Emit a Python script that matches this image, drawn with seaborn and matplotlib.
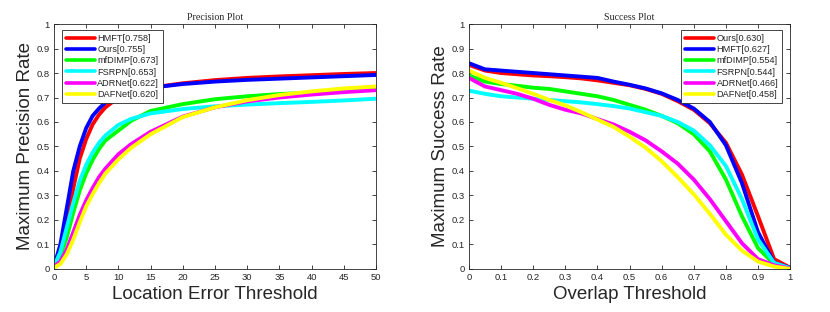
import numpy as np
import pandas as pd
import matplotlib
matplotlib.use("Agg")
import matplotlib.pyplot as plt
import seaborn as sns

sns.set_theme(style="white")
plt.rcParams["font.family"] = ["Liberation Sans", "DejaVu Sans"]

# ---- precision plot data ----
PREC_X = [0, 1, 2, 3, 4, 5, 6, 7, 8, 10, 12, 15, 20, 25, 30, 35, 40, 45, 50]
PREC_NAMES = ["HMFT[0.758]", "Ours[0.755]", "mfDIMP[0.673]",
              "FSRPN[0.653]", "ADRNet[0.622]", "DAFNet[0.620]"]
PREC_HMFT = [0.01, 0.06, 0.18, 0.33, 0.45, 0.53, 0.59, 0.63, 0.66, 0.70, 0.72, 0.74, 0.758, 0.771, 0.780, 0.786, 0.791, 0.796, 0.800]
PREC_OURS = [0.01, 0.10, 0.25, 0.40, 0.50, 0.575, 0.625, 0.655, 0.68, 0.71, 0.725, 0.74, 0.755, 0.765, 0.772, 0.777, 0.782, 0.787, 0.792]
PREC_MFDIMP = [0.01, 0.05, 0.13, 0.23, 0.32, 0.39, 0.445, 0.49, 0.525, 0.565, 0.605, 0.645, 0.673, 0.693, 0.705, 0.714, 0.72, 0.726, 0.732]
PREC_FSRPN = [0.01, 0.07, 0.17, 0.27, 0.36, 0.425, 0.475, 0.515, 0.545, 0.588, 0.613, 0.635, 0.653, 0.664, 0.671, 0.677, 0.682, 0.688, 0.695]
PREC_ADRNET = [0.01, 0.03, 0.08, 0.15, 0.22, 0.28, 0.33, 0.375, 0.41, 0.468, 0.51, 0.56, 0.622, 0.66, 0.684, 0.700, 0.712, 0.722, 0.730]
PREC_DAFNET = [0.005, 0.02, 0.06, 0.12, 0.19, 0.255, 0.305, 0.35, 0.39, 0.447, 0.495, 0.55, 0.620, 0.66, 0.689, 0.710, 0.725, 0.737, 0.745]

# ---- success plot data ----
SUCC_X = [0, 0.05, 0.1, 0.15, 0.2, 0.25, 0.3, 0.35, 0.4, 0.45, 0.5,
          0.55, 0.6, 0.65, 0.7, 0.75, 0.8, 0.85, 0.9, 0.95, 1.0]
SUCC_NAMES = ["Ours[0.630]", "HMFT[0.627]", "mfDIMP[0.554]",
              "FSRPN[0.544]", "ADRNet[0.466]", "DAFNet[0.458]"]
SUCC_OURS = [0.833, 0.81, 0.80, 0.795, 0.79, 0.787, 0.783, 0.778, 0.77, 0.76, 0.75, 0.735, 0.715, 0.685, 0.65, 0.595, 0.515, 0.385, 0.215, 0.04, 0.005]
SUCC_HMFT = [0.84, 0.815, 0.81, 0.805, 0.80, 0.795, 0.79, 0.785, 0.78, 0.765, 0.752, 0.737, 0.717, 0.69, 0.655, 0.60, 0.505, 0.35, 0.15, 0.025, 0.005]
SUCC_MFDIMP = [0.79, 0.765, 0.755, 0.748, 0.74, 0.735, 0.725, 0.715, 0.705, 0.69, 0.67, 0.65, 0.625, 0.595, 0.55, 0.48, 0.365, 0.215, 0.085, 0.02, 0.003]
SUCC_FSRPN = [0.728, 0.715, 0.705, 0.70, 0.695, 0.69, 0.685, 0.68, 0.673, 0.665, 0.655, 0.64, 0.625, 0.60, 0.565, 0.505, 0.42, 0.285, 0.12, 0.025, 0.003]
SUCC_ADRNET = [0.78, 0.745, 0.73, 0.715, 0.695, 0.67, 0.65, 0.635, 0.612, 0.59, 0.56, 0.525, 0.48, 0.43, 0.365, 0.285, 0.195, 0.105, 0.04, 0.015, 0.002]
SUCC_DAFNET = [0.81, 0.78, 0.76, 0.738, 0.715, 0.69, 0.668, 0.64, 0.61, 0.58, 0.54, 0.495, 0.44, 0.375, 0.305, 0.225, 0.14, 0.075, 0.03, 0.01, 0.0]

COLORS = ["#ff0000", "#0000ff", "#00ff00", "#00ffff", "#ff00ff", "#ffff00"]


def long_frame(xs, names, series):
    rows = []
    for name, ys in zip(names, series):
        for x, y in zip(xs, ys):
            rows.append({"x": x, "y": y, "tracker": name})
    return pd.DataFrame(rows)


prec_df = long_frame(PREC_X, PREC_NAMES,
                     [PREC_HMFT, PREC_OURS, PREC_MFDIMP, PREC_FSRPN, PREC_ADRNET, PREC_DAFNET])
succ_df = long_frame(SUCC_X, SUCC_NAMES,
                     [SUCC_OURS, SUCC_HMFT, SUCC_MFDIMP, SUCC_FSRPN, SUCC_ADRNET, SUCC_DAFNET])

fig = plt.figure(figsize=(8.3, 3.12), dpi=100)
ax1 = fig.add_axes([0.065, 0.138, 0.388, 0.785])
ax2 = fig.add_axes([0.565, 0.138, 0.387, 0.785])


def style_axes(ax, title, xlabel, ylabel, xticks, xticklabels, legend_loc, legend_anchor):
    ax.set_ylim(0, 1)
    ax.set_yticks(np.arange(0, 1.01, 0.1))
    ax.set_yticklabels(["0", "0.1", "0.2", "0.3", "0.4", "0.5", "0.6", "0.7", "0.8", "0.9", "1"])
    ax.set_xticks(xticks)
    ax.set_xticklabels(xticklabels)
    ax.tick_params(direction="in", length=3, width=0.6, labelsize=6.8,
                   top=True, right=True, bottom=True, left=True, colors="#262626", pad=3)
    for s in ax.spines.values():
        s.set_color("#262626")
        s.set_linewidth(0.6)
    ax.set_title(title, family="Liberation Serif", fontsize=7.2, pad=3, color="#262626")
    ax.set_xlabel(xlabel, fontsize=13.5, labelpad=3, color="#262626")
    ax.set_ylabel(ylabel, fontsize=13.5, labelpad=2, color="#262626")
    leg = ax.legend(loc=legend_loc, bbox_to_anchor=legend_anchor, fontsize=6.6, frameon=True,
                    framealpha=1, fancybox=False, edgecolor="#262626", handlelength=3.2,
                    handletextpad=0.25, labelspacing=0.25, borderpad=0.4, borderaxespad=0)
    leg.get_frame().set_linewidth(0.6)
    leg.set_zorder(10)
    for line in leg.get_lines():
        line.set_linewidth(2.6)


sns.lineplot(data=prec_df, x="x", y="y", hue="tracker", hue_order=PREC_NAMES,
             palette=COLORS, linewidth=2.8, ax=ax1, sort=False)
ax1.set_xlim(0, 50)
style_axes(ax1, "Precision Plot", "Location Error Threshold", "Maximum Precision Rate",
           np.arange(0, 51, 5), [str(v) for v in range(0, 51, 5)],
           "upper left", (0.025, 0.975))

sns.lineplot(data=succ_df, x="x", y="y", hue="tracker", hue_order=SUCC_NAMES,
             palette=COLORS, linewidth=2.8, ax=ax2, sort=False)
ax2.set_xlim(0, 1)
style_axes(ax2, "Success Plot", "Overlap Threshold", "Maximum Success Rate",
           np.arange(0, 1.01, 0.1),
           ["0", "0.1", "0.2", "0.3", "0.4", "0.5", "0.6", "0.7", "0.8", "0.9", "1"],
           "upper right", (0.975, 0.975))

fig.savefig("out.png", dpi=100)
